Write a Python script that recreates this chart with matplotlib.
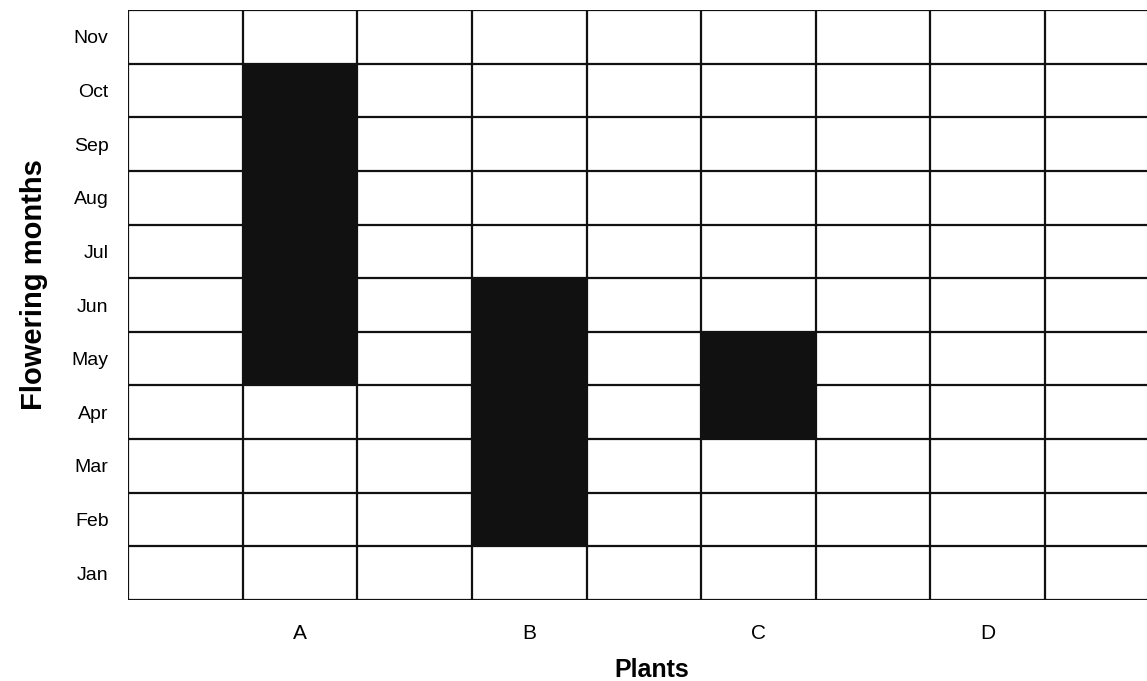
import matplotlib

matplotlib.use("Agg")
import matplotlib.pyplot as plt  # noqa: E402

plt.rcParams["font.family"] = ["Liberation Sans", "DejaVu Sans"]

months = ["Jan", "Feb", "Mar", "Apr", "May", "Jun", "Jul", "Aug", "Sep", "Oct", "Nov"]
plants = ["A", "B", "C", "D"]
plant_cols = [1, 3, 5, 7]            # grid column of each plant
flower_start = ["May", "Feb", "Apr", None]
flower_end = ["Oct", "Jun", "May", None]

n_cols = 9
INK = "#111111"

fig = plt.figure(figsize=(11.47, 6.81), dpi=100)
W, H = 1147, 681
left, right, top, bottom = 128, 1147, 10, 600
ax = fig.add_axes([left / W, 1 - bottom / H, (right - left) / W, (bottom - top) / H])

col_w = (1045 - 128) / 8
ax.set_xlim(0, (right - left) / col_w)
ax.set_ylim(0, len(months))

for col, s, e in zip(plant_cols, flower_start, flower_end):
    if s is None:
        continue
    lo, hi = months.index(s), months.index(e) + 1
    ax.bar(col + 0.5, hi - lo, width=1.0, bottom=lo, color=INK, edgecolor=INK,
           linewidth=0, zorder=1)

for i in range(n_cols + 1):
    ax.axvline(i, color=INK, linewidth=1.6, zorder=2)
for j in range(len(months) + 1):
    ax.axhline(j, color=INK, linewidth=1.6, zorder=2)

for sp in ax.spines.values():
    sp.set_visible(False)

ax.set_yticks([j + 0.5 for j in range(len(months))])
ax.set_yticklabels(months, fontsize=14)
ax.set_xticks([c + 0.5 for c in plant_cols])
ax.set_xticklabels(plants, fontsize=15)
ax.tick_params(axis="y", length=0, pad=14)
ax.tick_params(axis="x", length=0, pad=17)

ax.set_ylabel("Flowering months", fontsize=21, fontweight="bold")
ax.yaxis.set_label_coords(-0.092, 0.535)
ax.set_xlabel("Plants", fontsize=18, fontweight="bold")
ax.xaxis.set_label_coords(0.514, -0.118)
ax.xaxis.label.set_va("center")
ax.yaxis.label.set_va("center")

fig.savefig("out.png", dpi=100)
